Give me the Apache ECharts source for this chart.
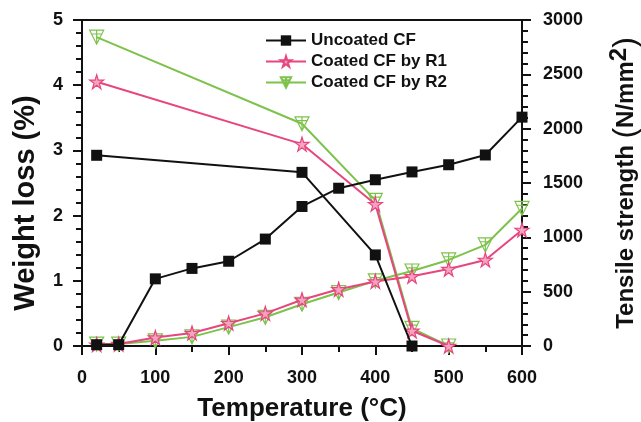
<!DOCTYPE html>
<html><head><meta charset="utf-8">
<script src="https://cdn.jsdelivr.net/npm/echarts@6/dist/echarts.min.js"></script>
<style>html,body{margin:0;padding:0;background:#fff}#c{width:641px;height:422px}</style>
</head><body><div id="c"></div>
<script>
var temps = [20, 50, 100, 150, 200, 250, 300, 350, 400, 450, 500, 550, 600];
var wlUncoated = [0.02, 0.02, 1.03, 1.19, 1.30, 1.64, 2.14, 2.42, 2.55, 2.67, 2.78, 2.93, 3.51];
var wlR1 = [0.02, 0.03, 0.13, 0.20, 0.35, 0.50, 0.71, 0.87, 0.99, 1.07, 1.18, 1.32, 1.78];
var wlR2 = [0.03, 0.03, 0.08, 0.14, 0.29, 0.44, 0.64, 0.82, 1.00, 1.15, 1.32, 1.55, 2.11];
var tsTempsUncoated = [20, 300, 400, 450];
var tsUncoated = [1755, 1598, 838, 0];
var tsTempsCoated = [20, 300, 400, 450, 500];
var tsR1 = [2432, 1858, 1305, 140, 0];
var tsR2 = [2842, 2045, 1340, 162, 0];
var names = ['Uncoated CF', 'Coated CF by R1', 'Coated CF by R2'];
var colors = ['#111111', '#e8457f', '#7dc24b'];

function pairs(xs, ys){ return xs.map(function(x,i){ return [x, ys[i]]; }); }

var triSym = 'path://M0,0 L12,0 L6,11 Z M6,0 L6,11 M1,3 L11,3';
var symbols = ['rect', 'path://M50,0 L61,35 L98,35 L68,57 L79,92 L50,70 L21,92 L32,57 L2,35 L39,35 Z', triSym];
var sizes = [11, 14, 14];
var fills = ['#111111', '#f4a3c0', 'rgba(255,255,255,0)'];

function mk(idx, data, yAxis){
  return {
    name: names[idx], type: 'line', yAxisIndex: yAxis, data: data,
    symbol: symbols[idx], symbolSize: sizes[idx],
    lineStyle: {color: colors[idx], width: 2},
    itemStyle: {color: fills[idx], borderColor: colors[idx], borderWidth: idx === 0 ? 0 : 1.2},
    emphasis: {disabled: true}, animation: false, z: 3 - idx
  };
}

var FF = 'Liberation Sans, Arial, sans-serif';
var labelFont = {fontFamily: FF, fontWeight: 'bold', fontSize: 18, color: '#111'};
var nameFont = {fontFamily: FF, fontWeight: 'bold', fontSize: 26, color: '#111'};
var tick = {show: true, inside: false, length: 9, lineStyle: {width: 2, color: '#111'}};

var chart = echarts.init(document.getElementById('c'), null, {renderer: 'canvas'});
chart.setOption({
  backgroundColor: '#fff',
  animation: false,
  grid: {left: 82, right: 119, top: 20, bottom: 76, containLabel: false, outerBoundsMode: 'none',
    show: true, borderColor: '#111', borderWidth: 2, backgroundColor: 'transparent'},
  legend: {
    orient: 'vertical', left: 260, top: 27, itemGap: 4, itemWidth: 40, itemHeight: 13,
    data: names.map(function(n, i){ return {name: n}; }),
    textStyle: {fontFamily: FF, fontWeight: 'bold', fontSize: 17, color: '#111'},
    selectedMode: false
  },
  xAxis: {
    type: 'value', min: 0, max: 600, interval: 100,
    name: 'Temperature (°C)', nameLocation: 'middle', nameGap: 50, nameTextStyle: nameFont,
    axisLine: {lineStyle: {color: '#111', width: 2}},
    axisTick: tick,
    minorTick: {show: true, splitNumber: 2, length: 6, lineStyle: {width: 2, color: '#111'}},
    axisLabel: Object.assign({margin: 23}, labelFont),
    splitLine: {show: false}
  },
  yAxis: [{
    type: 'value', min: 0, max: 5, interval: 1, position: 'left',
    name: 'Weight loss (%)', nameLocation: 'middle', nameGap: 42,
    nameTextStyle: Object.assign({}, nameFont, {fontSize: 29, padding: [0, 40, 0, 0]}),
    axisLine: {show: true, lineStyle: {color: '#111', width: 2}},
    axisTick: tick,
    minorTick: {show: true, splitNumber: 5, length: 6, lineStyle: {width: 2, color: '#111'}},
    axisLabel: Object.assign({margin: 19}, labelFont),
    splitLine: {show: false}
  }, {
    type: 'value', min: 0, max: 3000, interval: 500, position: 'right',
    name: 'Tensile strength {p|(}N/mm{s|2}{p|)}', nameLocation: 'middle', nameGap: 85,
    nameTextStyle: Object.assign({}, nameFont, {fontSize: 24, rich: {
      p: {fontFamily: FF, fontSize: 32, fontWeight: 'normal', color: '#111'},
      s: {fontFamily: FF, fontSize: 24, fontWeight: 'bold', color: '#111', verticalAlign: 'top', padding: [0,0,14,0]}
    }}),
    axisLine: {show: true, lineStyle: {color: '#111', width: 2}},
    axisTick: tick,
    minorTick: {show: true, splitNumber: 5, length: 6, lineStyle: {width: 2, color: '#111'}},
    axisLabel: Object.assign({margin: 21, formatter: function(v){ return String(v); }}, labelFont),
    splitLine: {show: false}
  }],
  series: [
    mk(0, pairs(temps, wlUncoated), 0),
    mk(1, pairs(temps, wlR1), 0),
    mk(2, pairs(temps, wlR2), 0),
    mk(0, pairs(tsTempsUncoated, tsUncoated), 1),
    mk(1, pairs(tsTempsCoated, tsR1), 1),
    mk(2, pairs(tsTempsCoated, tsR2), 1)
  ]
});
</script></body></html>
